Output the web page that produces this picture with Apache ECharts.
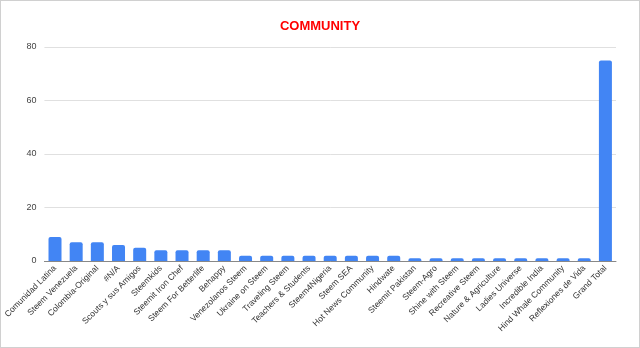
<!DOCTYPE html>
<html><head><meta charset="utf-8">
<script src="https://cdn.jsdelivr.net/npm/echarts@6/dist/echarts.min.js"></script>
<style>
html,body{margin:0;padding:0;background:#fff;}
#c{width:638px;height:346px;border:1px solid #d0d0d0;}
</style></head><body>
<div id="c"></div>
<script>
const categories = ["Comunidad Latina","Steem Venezuela","Colombia-Original","#N/A","Scouts y sus Amigos","Steemkids","Steemit Iron Chef","Steem For Betterlife","Behappy","Venezolanos Steem","Ukraine on Steem","Traveling Steem","Teachers & Students","Steem4Nigeria","Steem SEA","Hot News Community","Hindwate","Steemit Pakistan","Steem-Agro","Shine with Steem","Recreative Steem","Nature & Agriculture","Ladies Universe","Incredible India","Hind Whale Community","Reflexiones de Vida","Grand Total"];
const values = [9,7,7,6,5,4,4,4,4,2,2,2,2,2,2,2,2,1,1,1,1,1,1,1,1,1,75];
const yTicks = [0,20,40,60,80];

const chart = echarts.init(document.getElementById('c'));
chart.setOption({
  animation:false,
  title:{text:'COMMUNITY',left:'center',top:14,textStyle:{color:'#ff0000',fontSize:13,fontWeight:'bold',fontFamily:'Liberation Sans, Arial'}},
  grid:{left:39,right:23,top:46,bottom:86},
  xAxis:{type:'category',data:categories,
    axisLine:{lineStyle:{color:'#888',width:1}},
    axisTick:{show:false},
    axisLabel:{rotate:45,interval:0,fontSize:8.5,color:'#333',fontFamily:'Liberation Sans, Arial',margin:6}},
  yAxis:{type:'value',min:yTicks[0],max:yTicks[yTicks.length-1],interval:20,
    axisLine:{show:false},axisTick:{show:false},
    axisLabel:{fontSize:9,color:'#444',fontFamily:'Liberation Sans, Arial',margin:8},
    splitLine:{lineStyle:{color:'#e0e0e0'}}},
  series:[{type:'bar',data:values,barWidth:13,itemStyle:{color:'#4285f4',borderRadius:[2,2,0,0]}}]
});
</script></body></html>
